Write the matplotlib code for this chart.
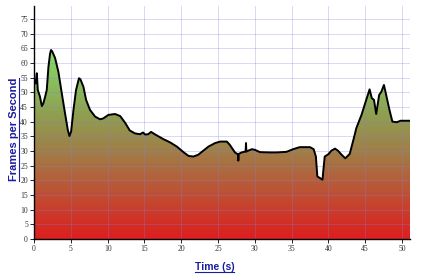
import matplotlib
matplotlib.use("Agg")
import matplotlib.pyplot as plt
import numpy as np
from matplotlib.colors import LinearSegmentedColormap
from matplotlib.lines import Line2D

# frame rate trace
t = [0.0, 0.2, 0.37, 0.5, 0.8, 1.05, 1.25, 1.5, 1.72, 1.95, 2.17, 2.3, 2.45, 2.85,
     3.3, 3.76, 4.2, 4.58, 4.8, 5.03, 5.35, 5.7, 6.1, 6.3, 6.7, 7.07, 7.6, 8.3,
     8.97, 9.4, 10.1, 11.0, 11.7, 12.4, 13.0, 13.7, 14.4, 14.8, 15.1, 15.5, 15.9,
     16.4, 17.6, 18.5, 19.4, 20.3, 21.0, 21.65, 22.3, 23.0, 23.7, 24.6, 25.3,
     26.2, 26.6, 27.3, 27.6, 27.7, 27.76, 27.82, 28.2, 28.7, 28.75, 28.8, 28.85,
     29.0, 29.6, 30.0, 30.7, 32.1, 33.0, 34.3, 35.2, 36.1, 37.5, 38.0, 38.3,
     38.5, 38.9, 39.2, 39.3, 39.5, 40.0, 40.4, 40.9, 41.3, 41.8, 42.3, 42.9,
     43.4, 43.8, 44.5, 45.0, 45.6, 45.9, 46.2, 46.5, 46.9, 47.2, 47.55, 47.8,
     48.3, 48.7, 49.3, 49.8, 51.1]
fps = [54.0, 53.0, 56.5, 50.8, 48.5, 45.3, 46.2, 48.5, 50.8, 58.7, 63.2, 64.4, 64.0,
       61.7, 57.0, 49.7, 42.9, 37.2, 35.1, 36.6, 44.0, 50.8, 54.8, 54.4, 51.9,
       47.4, 44.0, 41.7, 40.8, 41.1, 42.3, 42.6, 41.9, 39.5, 37.0, 36.0, 35.7,
       36.3, 35.6, 35.7, 36.5, 35.7, 34.0, 32.9, 31.5, 29.6, 28.3, 28.1, 28.7,
       30.1, 31.5, 32.7, 33.2, 33.2, 32.1, 29.5, 29.0, 29.0, 26.7, 29.0, 29.5,
       29.8, 29.8, 32.7, 29.8, 30.0, 30.6, 30.4, 29.6, 29.5, 29.5, 29.7, 30.6,
       31.3, 31.3, 30.6, 28.1, 21.3, 20.7, 20.2, 23.0, 28.1, 28.9, 30.1, 30.8,
       30.1, 28.7, 27.5, 29.0, 33.8, 37.8, 42.3, 46.3, 51.0, 48.0, 47.4, 42.6,
       49.1, 50.2, 52.5, 49.7, 44.0, 40.0, 39.8, 40.3, 40.3]

xticks = list(range(0, 51, 5))
yticks = list(range(0, 76, 5))
label_color = "#1c1ca0"
YMAX = 79.4

fig = plt.figure(figsize=(4.21, 2.75), dpi=100)
ax = fig.add_axes([0.081, 0.131, 0.893, 0.847])
ax.set_xlim(0, 51.1)
ax.set_ylim(0, YMAX)

# red -> green gradient over the plot, then white painted above the curve
cmap = LinearSegmentedColormap.from_list(
    "rg", [(0.0, "#de1e1e"), (0.45, "#a07e48"), (0.65, "#8fa052"), (1.0, "#84e06c")])
grad = np.linspace(0, 1, 256).reshape(-1, 1)
ax.imshow(grad, cmap=cmap, origin="lower", aspect="auto",
          extent=[0, 51.1, 0, 66], zorder=1, interpolation="bilinear")
ax.fill_between(t, fps, YMAX, facecolor="white", lw=0, zorder=2)

ax.plot(t, fps, color="black", lw=1.4, zorder=4)

ax.set_xticks(xticks)
ax.set_yticks(yticks)
ax.grid(True, color="#8080e0", lw=0.6, alpha=0.35, zorder=3)
ax.set_axisbelow(False)
for s in ["top", "right"]:
    ax.spines[s].set_visible(False)
ax.spines["left"].set_linewidth(1.0)
ax.spines["bottom"].set_linewidth(1.0)
ax.spines["left"].set_zorder(5)
ax.spines["bottom"].set_zorder(5)
ax.tick_params(length=3, width=0.6, labelsize=5.5, pad=1.5)
for lab in ax.get_xticklabels() + ax.get_yticklabels():
    lab.set_family("Liberation Serif")
    lab.set_color("#333333")

xl = ax.set_xlabel("Time (s)", fontsize=7.5, fontweight="bold", color=label_color,
                   family="Liberation Sans")
yl = ax.set_ylabel("Frames per Second", fontsize=8, fontweight="bold",
                   color=label_color, family="Liberation Sans")
ax.xaxis.set_label_coords(0.48, -0.1)
ax.yaxis.set_label_coords(-0.04, 0.47)

# underline both axis titles
fig.canvas.draw()
inv = fig.transFigure.inverted()
bb = xl.get_window_extent().transformed(inv)
fig.add_artist(Line2D([bb.x0, bb.x1], [bb.y0 + 0.002, bb.y0 + 0.002],
                      transform=fig.transFigure, color=label_color, lw=0.8))
bb = yl.get_window_extent().transformed(inv)
fig.add_artist(Line2D([bb.x1 - 0.001, bb.x1 - 0.001], [bb.y0, bb.y1],
                      transform=fig.transFigure, color=label_color, lw=0.8))

fig.savefig("out.png", dpi=100)
